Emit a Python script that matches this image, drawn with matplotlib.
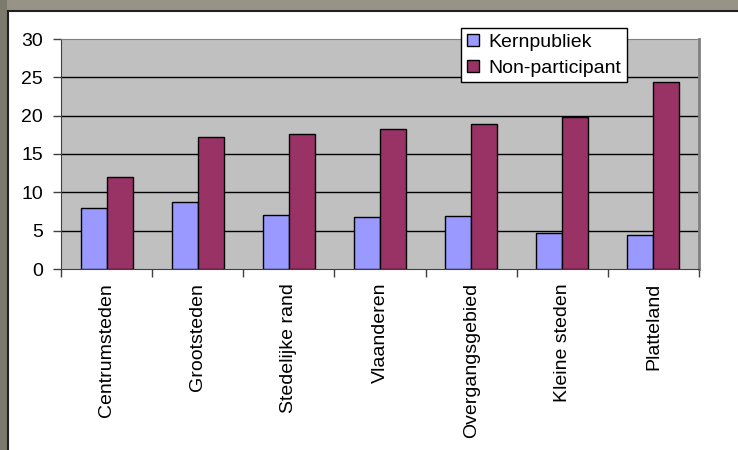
import matplotlib.pyplot as plt
from matplotlib.patches import Rectangle
from matplotlib.lines import Line2D

# data
categories = ["Centrumsteden", "Grootsteden", "Stedelijke rand", "Vlaanderen",
              "Overgangsgebied", "Kleine steden", "Platteland"]
kernpubliek = [8.0, 8.7, 7.0, 6.8, 6.9, 4.7, 4.4]
non_participant = [12.0, 17.2, 17.6, 18.3, 18.9, 19.8, 24.4]
y_ticks = [0, 5, 10, 15, 20, 25, 30]

W, H = 738, 450
plt.rcParams['font.family'] = ['Liberation Sans', 'DejaVu Sans']

fig = plt.figure(figsize=(W / 100, H / 100), dpi=100)
fig.patch.set_facecolor('white')

# grey window frame at top and left
fig.patches.append(Rectangle((0, 1 - 10 / H), 1, 10 / H, transform=fig.transFigure,
                             facecolor='#979387', edgecolor='none', zorder=0))
fig.patches.append(Rectangle((0, 0), 7 / W, 1, transform=fig.transFigure,
                             facecolor='#7c796d', edgecolor='none', zorder=0))
fig.lines.append(Line2D([7.5 / W, 1], [1 - 10.5 / H, 1 - 10.5 / H], transform=fig.transFigure,
                        color='#202020', lw=1.5))
fig.lines.append(Line2D([7.5 / W, 7.5 / W], [0, 1 - 10.5 / H], transform=fig.transFigure,
                        color='#202020', lw=1.5))

ax = fig.add_axes([61 / W, (H - 269) / H, 638 / W, 230 / H])
ax.set_facecolor('#c0c0c0')

x = list(range(len(categories)))
bw = 0.285
ax.bar([i - bw / 2 for i in x], kernpubliek, width=bw, color='#9999ff',
       edgecolor='black', linewidth=1, label='Kernpubliek', zorder=3)
ax.bar([i + bw / 2 for i in x], non_participant, width=bw, color='#993366',
       edgecolor='black', linewidth=1, label='Non-participant', zorder=3)

ax.set_xlim(-0.5, len(categories) - 0.5)
ax.set_ylim(0, 30)
ax.set_yticks(y_ticks)
ax.set_yticklabels([str(v) for v in y_ticks], fontsize=14)
for v in y_ticks[1:-1]:
    ax.axhline(v, color='black', lw=1, zorder=1)

# ticks between categories, labels at the centres
ax.set_xticks([i - 0.5 for i in range(len(categories) + 1)])
ax.set_xticklabels([])
ax.set_xticks(x, minor=True)
ax.set_xticklabels(categories, minor=True, rotation=90, fontsize=14, va='top')
ax.tick_params(axis='x', which='minor', length=0, pad=10)
ax.tick_params(axis='x', which='major', length=6, width=1, color='#404040', direction='out')
ax.tick_params(axis='y', length=6, width=1, color='#404040', direction='out', pad=7)

for s in ['left', 'bottom']:
    ax.spines[s].set_color('#404040')
ax.spines['top'].set_color('#808080')
ax.spines['right'].set_color('#808080')
ax.spines['right'].set_linewidth(2)

leg = fig.legend(loc='upper left', bbox_to_anchor=(461 / W, 1 - 28 / H), fontsize=14,
                 frameon=True, fancybox=False, edgecolor='black', framealpha=1,
                 handlelength=0.6, handleheight=0.6, handletextpad=0.5,
                 borderpad=0.3, labelspacing=0.45, borderaxespad=0)
leg.get_frame().set_linewidth(1)

fig.savefig('out.png', dpi=100)
